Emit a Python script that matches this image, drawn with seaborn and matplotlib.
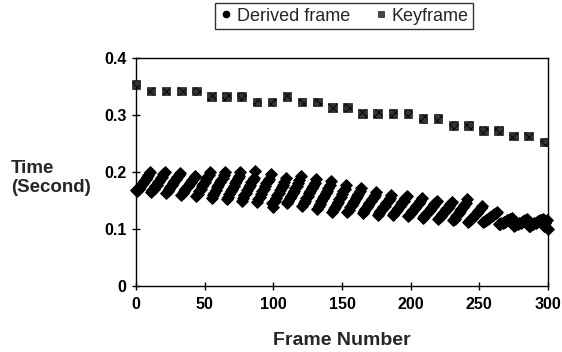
import matplotlib
matplotlib.use("Agg")
import matplotlib.pyplot as plt
from matplotlib.lines import Line2D
import seaborn as sns
import pandas as pd

sns.set_theme(style="white")
plt.rcParams['font.family'] = ['Liberation Sans', 'DejaVu Sans']
plt.rcParams['hatch.linewidth'] = 0.6

# Keyframes (every 11 frames)
key_frames = [0, 11, 22, 33, 44, 55, 66, 77, 88, 99, 110, 121, 132, 143, 154,
              165, 176, 187, 198, 209, 220, 231, 242, 253, 264, 275, 286, 297]
key_times = [0.354, 0.342, 0.342, 0.342, 0.342, 0.332, 0.332, 0.332, 0.323, 0.323,
             0.332, 0.323, 0.323, 0.313, 0.313, 0.303, 0.303, 0.303, 0.303, 0.294,
             0.294, 0.282, 0.282, 0.273, 0.273, 0.263, 0.263, 0.253]

# Derived frames, one group of 11 values per keyframe interval (frames 0..300)
derived_groups = [
    [0.168, 0.166, 0.170, 0.174, 0.177, 0.181, 0.184, 0.188, 0.191, 0.195, 0.200],
    [0.165, 0.168, 0.171, 0.175, 0.178, 0.182, 0.185, 0.189, 0.192, 0.196, 0.200],
    [0.163, 0.167, 0.170, 0.174, 0.177, 0.181, 0.184, 0.188, 0.191, 0.195, 0.199],
    [0.160, 0.163, 0.166, 0.170, 0.173, 0.176, 0.180, 0.183, 0.186, 0.190, 0.193],
    [0.158, 0.162, 0.166, 0.170, 0.175, 0.179, 0.183, 0.187, 0.191, 0.195, 0.200],
    [0.155, 0.159, 0.164, 0.168, 0.173, 0.177, 0.182, 0.186, 0.190, 0.195, 0.200],
    [0.152, 0.157, 0.161, 0.166, 0.171, 0.175, 0.180, 0.185, 0.189, 0.193, 0.200],
    [0.150, 0.155, 0.159, 0.164, 0.169, 0.173, 0.178, 0.182, 0.186, 0.190, 0.201],
    [0.148, 0.152, 0.157, 0.162, 0.166, 0.171, 0.175, 0.180, 0.184, 0.188, 0.196],
    [0.146, 0.139, 0.150, 0.155, 0.160, 0.164, 0.169, 0.174, 0.178, 0.183, 0.190],
    [0.145, 0.149, 0.154, 0.158, 0.163, 0.167, 0.172, 0.176, 0.181, 0.186, 0.193],
    [0.140, 0.145, 0.149, 0.154, 0.158, 0.163, 0.167, 0.172, 0.176, 0.181, 0.188],
    [0.135, 0.140, 0.144, 0.149, 0.154, 0.158, 0.163, 0.167, 0.172, 0.177, 0.185],
    [0.130, 0.135, 0.139, 0.144, 0.148, 0.153, 0.157, 0.162, 0.166, 0.171, 0.178],
    [0.130, 0.134, 0.138, 0.142, 0.146, 0.150, 0.154, 0.158, 0.162, 0.166, 0.172],
    [0.128, 0.131, 0.135, 0.138, 0.142, 0.145, 0.149, 0.152, 0.156, 0.160, 0.165],
    [0.125, 0.128, 0.131, 0.135, 0.138, 0.141, 0.145, 0.148, 0.151, 0.155, 0.160],
    [0.125, 0.128, 0.131, 0.134, 0.137, 0.140, 0.144, 0.147, 0.150, 0.154, 0.158],
    [0.122, 0.125, 0.128, 0.131, 0.134, 0.137, 0.140, 0.143, 0.146, 0.150, 0.155],
    [0.120, 0.123, 0.126, 0.128, 0.131, 0.134, 0.137, 0.140, 0.143, 0.146, 0.150],
    [0.118, 0.121, 0.123, 0.126, 0.129, 0.132, 0.135, 0.137, 0.140, 0.143, 0.148],
    [0.115, 0.118, 0.122, 0.125, 0.128, 0.132, 0.135, 0.139, 0.142, 0.146, 0.152],
    [0.112, 0.115, 0.117, 0.120, 0.123, 0.125, 0.128, 0.131, 0.133, 0.136, 0.140],
    [0.112, 0.114, 0.115, 0.117, 0.119, 0.121, 0.122, 0.124, 0.126, 0.128, 0.130],
    [0.108, 0.109, 0.110, 0.111, 0.112, 0.113, 0.115, 0.116, 0.117, 0.118, 0.120],
    [0.105, 0.107, 0.108, 0.109, 0.110, 0.111, 0.113, 0.114, 0.115, 0.116, 0.118],
    [0.105, 0.106, 0.108, 0.109, 0.110, 0.111, 0.112, 0.114, 0.115, 0.116, 0.118],
    [0.105, 0.110, 0.115, 0.100],
]

derived_times = [v for g in derived_groups for v in g]
derived_frames = list(range(len(derived_times)))

series_labels = ["Derived frame", "Keyframe"]
x_ticks = [0, 50, 100, 150, 200, 250, 300]
y_ticks = [0, 0.1, 0.2, 0.3, 0.4]
y_tick_labels = ["0", "0.1", "0.2", "0.3", "0.4"]

df_d = pd.DataFrame({"frame": derived_frames, "time": derived_times})
df_k = pd.DataFrame({"frame": key_frames, "time": key_times})

fig = plt.figure(figsize=(5.62, 3.52), dpi=100)
ax = fig.add_axes([136 / 562, 1 - 286 / 352, (548 - 136) / 562, (286 - 58) / 352])

sns.scatterplot(data=df_d, x="frame", y="time", ax=ax, marker="D", s=34,
                color="black", edgecolor="black", linewidth=0.9,
                legend=False, clip_on=False, zorder=3)
sns.scatterplot(data=df_k, x="frame", y="time", ax=ax, marker="s", s=38,
                facecolor="#333333", edgecolor="black", linewidth=0.4,
                hatch="xxxx", legend=False, clip_on=False, zorder=3)

ax.set_xlim(0, 300)
ax.set_ylim(0, 0.4)
ax.set_xticks(x_ticks)
ax.set_xticklabels([str(t) for t in x_ticks])
ax.set_yticks(y_ticks)
ax.set_yticklabels(y_tick_labels)
for s in ax.spines.values():
    s.set_visible(True)
    s.set_color("black")
    s.set_linewidth(1.0)
ax.tick_params(axis="both", direction="inout", length=6, width=1, colors="black",
               labelsize=11.5, bottom=True, left=True)
ax.tick_params(axis="x", pad=5)
ax.tick_params(axis="y", pad=4)
for lab in ax.get_xticklabels() + ax.get_yticklabels():
    lab.set_fontweight("bold")

ax.set_xlabel("Frame Number", fontsize=14, fontweight="bold", labelpad=14)
ax.set_ylabel("")
fig.text(11 / 562, 1 - 178 / 352, "Time\n(Second)", ha="left", va="center",
         fontsize=13.5, fontweight="bold", linespacing=1.15)

handles = [
    Line2D([], [], linestyle="none", marker="o", markersize=4.5,
           markerfacecolor="black", markeredgecolor="black"),
    Line2D([], [], linestyle="none", marker="s", markersize=4.5,
           markerfacecolor="#444444", markeredgecolor="#222222", markeredgewidth=0.5),
]
leg = fig.legend(handles, series_labels, loc="upper center",
                 bbox_to_anchor=(344 / 562, 1 - 3 / 352),
                 ncol=2, frameon=True, fancybox=False, fontsize=13,
                 handletextpad=0.2, columnspacing=1.3, borderpad=0.25,
                 handlelength=0.8, borderaxespad=0)
leg.get_frame().set_edgecolor("black")
leg.get_frame().set_linewidth(1.0)
leg.get_frame().set_boxstyle("square", pad=0)

fig.savefig("out.png", dpi=100)
